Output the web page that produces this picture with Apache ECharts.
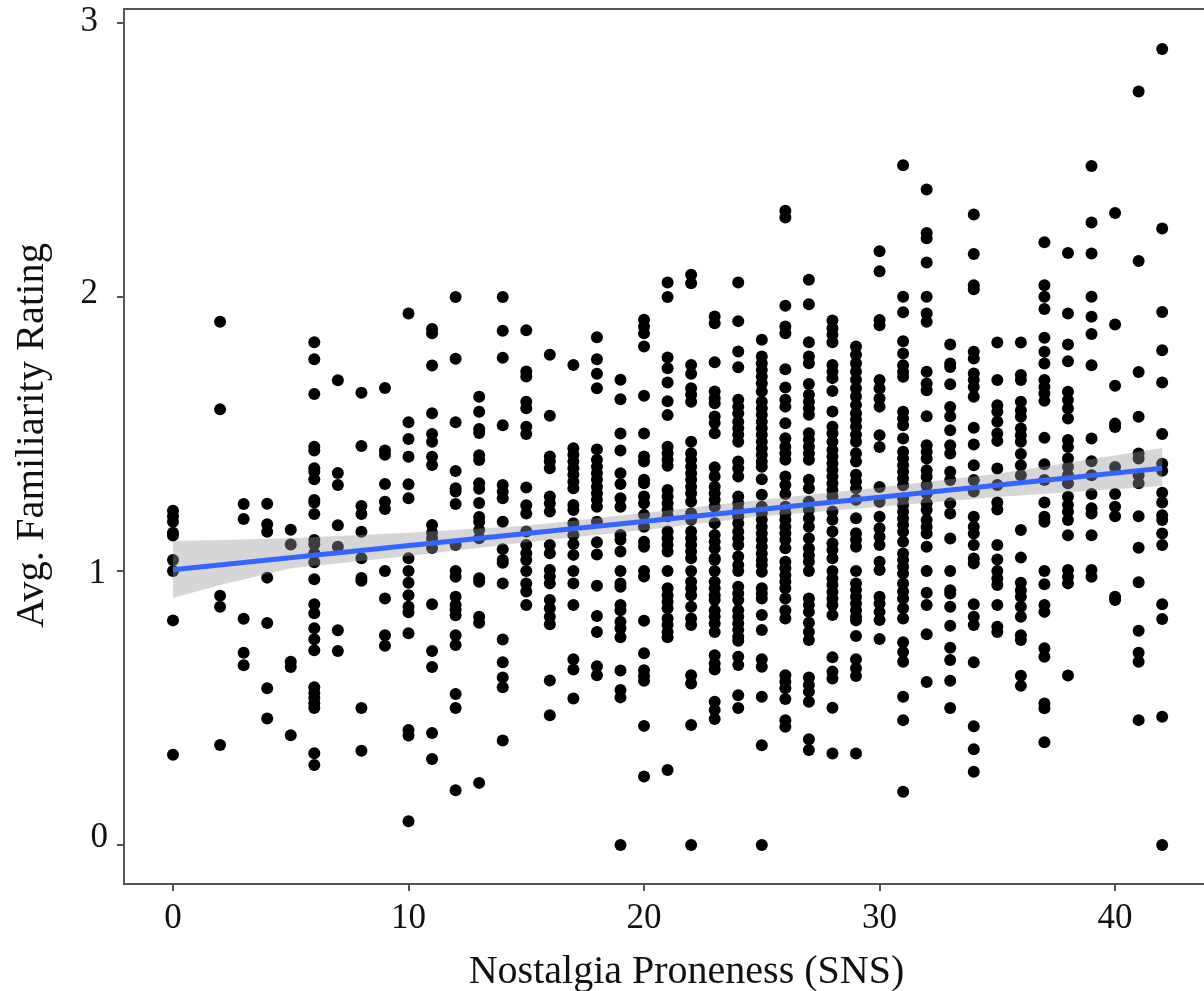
<!DOCTYPE html>
<html>
<head>
<meta charset="utf-8">
<script src="https://cdn.jsdelivr.net/npm/echarts@6/dist/echarts.min.js"></script>
<style>html,body{margin:0;padding:0;background:#fff;overflow:hidden}#c{width:1204px;height:991px}</style>
</head>
<body>
<div id="c"></div>
<script>
const xTicks = [0, 10, 20, 30, 40];
const yTicks = [0, 1, 2, 3];
const xTitle = 'Nostalgia Proneness (SNS)';
const yTitle = 'Avg. Familiarity Rating';

const sns0 = [1.22,1.20,1.18,1.14,1.13,1.04,1.00,0.82,0.33];
const sns2 = [1.91,1.59,0.91,0.87,0.365];
const sns3 = [1.245,1.19,0.826,0.702,0.656];
const sns4 = [1.246,1.171,1.143,0.976,0.81,0.572,0.462];
const sns5 = [1.151,1.097,0.669,0.65,0.401];
const sns6 = [1.835,1.773,1.646,1.454,1.44,1.375,1.362,1.335,1.259,1.25,1.208,1.113,1.098,1.065,1.032,0.97,0.879,0.846,0.791,0.751,0.711,0.576,0.555,0.537,0.518,0.50,0.335,0.292];
const sns7 = [1.696,1.358,1.314,1.167,1.089,0.784,0.708];
const sns8 = [1.651,1.456,1.237,1.208,1.143,1.047,0.975,0.965,0.50,0.344];
const sns9 = [1.668,1.44,1.424,1.318,1.253,1.226,1.0,0.90,0.766,0.727];
const sns10 = [1.94,1.543,1.482,1.417,1.317,1.266,1.047,1.0,0.957,0.912,0.87,0.85,0.773,0.42,0.40,0.087];
const sns11 = [1.883,1.868,1.75,1.576,1.50,1.472,1.417,1.387,1.168,1.14,1.12,1.084,0.879,0.708,0.65,0.409,0.314];
const sns12 = [2.0,1.775,1.543,1.365,1.302,1.29,1.245,1.095,1.0,0.979,0.906,0.876,0.858,0.839,0.766,0.73,0.551,0.50,0.20];
const sns13 = [1.636,1.581,1.518,1.504,1.423,1.405,1.32,1.30,1.248,1.197,1.18,1.15,1.12,0.974,0.961,0.833,0.811,0.227];
const sns14 = [2.0,1.877,1.778,1.532,1.314,1.29,1.266,1.18,1.08,1.04,1.03,0.955,0.75,0.667,0.612,0.576,0.382];
const sns15 = [1.879,1.728,1.71,1.618,1.594,1.527,1.50,1.305,1.24,1.21,1.144,1.095,1.065,1.04,1.0,0.955,0.925,0.876];
const sns16 = [1.789,1.567,1.418,1.40,1.375,1.272,1.247,1.217,1.095,1.065,1.004,0.98,0.955,0.894,0.864,0.833,0.806,0.601,0.474];
const sns17 = [1.752,1.448,1.424,1.40,1.375,1.351,1.326,1.302,1.241,1.223,1.174,1.132,1.099,1.059,1.0,0.955,0.876,0.678,0.641,0.535];
const sns18 = [1.853,1.773,1.72,1.667,1.444,1.406,1.381,1.357,1.333,1.308,1.284,1.26,1.235,1.18,1.105,1.06,0.946,0.836,0.778,0.653,0.62];
const sns19 = [1.698,1.627,1.502,1.44,1.357,1.318,1.266,1.235,1.132,1.114,1.071,1.0,0.955,0.943,0.876,0.857,0.815,0.791,0.758,0.637,0.566,0.539,0.0];
const sns20 = [1.917,1.892,1.868,1.819,1.64,1.502,1.418,1.40,1.333,1.32,1.272,1.247,1.205,1.162,1.107,1.089,1.0,0.98,0.819,0.70,0.638,0.617,0.60,0.435,0.25];
const sns21 = [2.053,2.0,1.779,1.74,1.688,1.62,1.569,1.454,1.43,1.406,1.384,1.296,1.272,1.247,1.223,1.2,1.144,1.12,1.095,1.071,1.0,0.937,0.912,0.888,0.864,0.827,0.803,0.778,0.758,0.274];
const sns22 = [2.081,2.05,1.752,1.72,1.667,1.643,1.618,1.472,1.43,1.406,1.381,1.357,1.333,1.308,1.284,1.254,1.211,1.187,1.144,1.12,1.095,1.071,1.047,1.0,0.961,0.937,0.912,0.87,0.827,0.803,0.62,0.59,0.438,0.0];
const sns23 = [1.929,1.904,1.762,1.655,1.631,1.612,1.564,1.54,1.503,1.379,1.345,1.308,1.284,1.26,1.235,1.174,1.132,1.107,1.083,1.047,1.04,1.0,0.961,0.937,0.912,0.894,0.857,0.833,0.809,0.778,0.693,0.663,0.641,0.523,0.493,0.46];
const sns24 = [2.053,1.912,1.801,1.744,1.625,1.6,1.576,1.545,1.521,1.497,1.472,1.4,1.375,1.345,1.272,1.247,1.223,1.2,1.174,1.144,1.12,1.095,1.053,1.022,1.0,0.943,0.918,0.894,0.857,0.833,0.809,0.785,0.76,0.746,0.687,0.657,0.547,0.5];
const sns25 = [1.844,1.783,1.758,1.734,1.71,1.685,1.655,1.618,1.594,1.57,1.545,1.521,1.497,1.472,1.448,1.424,1.4,1.381,1.335,1.278,1.235,1.211,1.187,1.162,1.138,1.114,1.089,1.064,1.04,1.022,0.997,0.937,0.918,0.90,0.84,0.785,0.678,0.651,0.541,0.364,0.0];
const sns26 = [2.315,2.29,1.968,1.892,1.868,1.736,1.67,1.625,1.6,1.539,1.485,1.454,1.43,1.406,1.345,1.314,1.281,1.235,1.211,1.187,1.162,1.138,1.114,1.083,1.034,1.01,0.985,0.961,0.937,0.90,0.857,0.827,0.62,0.596,0.572,0.533,0.456,0.432];
const sns27 = [2.063,1.974,1.835,1.783,1.758,1.683,1.643,1.618,1.594,1.57,1.503,1.479,1.454,1.43,1.406,1.333,1.302,1.253,1.223,1.193,1.162,1.12,1.083,1.058,1.034,1.0,0.90,0.876,0.851,0.811,0.778,0.748,0.612,0.584,0.56,0.523,0.386,0.347];
const sns28 = [1.914,1.886,1.862,1.835,1.752,1.728,1.704,1.657,1.582,1.527,1.503,1.472,1.442,1.418,1.393,1.369,1.345,1.32,1.296,1.272,1.217,1.187,1.144,1.101,1.077,1.047,1.0,0.973,0.949,0.924,0.90,0.876,0.84,0.685,0.633,0.608,0.501,0.334];
const sns29 = [1.819,1.789,1.758,1.728,1.698,1.667,1.637,1.606,1.576,1.552,1.527,1.497,1.472,1.43,1.4,1.351,1.326,1.302,1.26,1.193,1.138,1.114,1.089,1.0,0.955,0.931,0.906,0.882,0.857,0.833,0.82,0.763,0.678,0.645,0.617,0.334];
const sns30 = [2.167,2.094,1.916,1.897,1.697,1.666,1.63,1.6,1.496,1.453,1.307,1.253,1.198,1.156,1.125,1.095,1.034,1.004,0.906,0.882,0.851,0.821,0.752];
const sns31 = [2.481,2.001,1.944,1.839,1.794,1.751,1.727,1.709,1.581,1.557,1.532,1.484,1.435,1.411,1.386,1.362,1.338,1.313,1.265,1.241,1.216,1.192,1.168,1.143,1.107,1.064,1.04,1.016,0.991,0.955,0.925,0.90,0.864,0.827,0.74,0.705,0.669,0.541,0.456,0.195];
const sns32 = [2.392,2.234,2.214,2.126,2.001,1.94,1.91,1.727,1.684,1.66,1.565,1.459,1.435,1.411,1.368,1.344,1.313,1.283,1.247,1.223,1.186,1.162,1.137,1.089,1.0,0.921,0.876,0.769,0.595];
const sns33 = [1.827,1.757,1.745,1.682,1.599,1.565,1.514,1.459,1.429,1.362,1.332,1.247,1.21,1.119,1.0,0.93,0.918,0.87,0.80,0.72,0.675,0.60,0.50];
const sns34 = [2.301,2.157,2.043,2.028,1.80,1.776,1.721,1.697,1.672,1.636,1.523,1.462,1.386,1.332,1.29,1.198,1.162,1.137,1.095,1.046,1.028,0.879,0.833,0.803,0.667,0.434,0.35,0.268];
const sns35 = [1.834,1.697,1.605,1.581,1.545,1.502,1.475,1.374,1.314,1.25,1.225,1.095,1.042,1.0,0.973,0.949,0.876,0.797,0.778];
const sns36 = [1.834,1.715,1.697,1.618,1.587,1.563,1.52,1.496,1.472,1.427,1.386,1.35,1.15,1.049,0.957,0.93,0.906,0.87,0.833,0.766,0.748,0.618,0.581];
const sns37 = [2.20,2.043,2.001,1.956,1.851,1.80,1.757,1.697,1.672,1.648,1.621,1.486,1.39,1.332,1.25,1.198,1.18,1.0,0.952,0.876,0.851,0.718,0.687,0.517,0.499,0.375];
const sns38 = [2.161,1.94,1.827,1.766,1.654,1.624,1.593,1.557,1.478,1.453,1.411,1.38,1.35,1.32,1.271,1.241,1.216,1.186,1.131,1.004,0.979,0.955,0.619];
const sns39 = [2.478,2.272,2.159,2.001,1.928,1.865,1.751,1.484,1.401,1.35,1.281,1.229,1.21,1.131,1.004,0.979];
const sns40 = [2.307,1.90,1.676,1.538,1.526,1.38,1.281,1.235,1.20,0.906,0.894];
const sns41 = [2.75,2.131,1.726,1.563,1.429,1.411,1.35,1.32,1.20,1.085,0.959,0.782,0.702,0.669,0.456];
const sns42 = [2.905,2.25,1.945,1.806,1.688,1.50,1.392,1.366,1.286,1.25,1.204,1.186,1.137,1.095,0.879,0.825,0.468,0.0];

const snsColumns = [
  [0,sns0],[2,sns2],[3,sns3],[4,sns4],[5,sns5],[6,sns6],[7,sns7],[8,sns8],[9,sns9],[10,sns10],
  [11,sns11],[12,sns12],[13,sns13],[14,sns14],[15,sns15],[16,sns16],[17,sns17],[18,sns18],[19,sns19],[20,sns20],
  [21,sns21],[22,sns22],[23,sns23],[24,sns24],[25,sns25],[26,sns26],[27,sns27],[28,sns28],[29,sns29],[30,sns30],
  [31,sns31],[32,sns32],[33,sns33],[34,sns34],[35,sns35],[36,sns36],[37,sns37],[38,sns38],[39,sns39],[40,sns40],
  [41,sns41],[42,sns42]
];

const fitX = [0, 42];
const fitY = [1.005, 1.375];
const bandX = [0, 2, 5, 10, 15, 20, 25, 30, 35, 42];
const bandUpper = [1.11, 1.113, 1.12, 1.14, 1.165, 1.212, 1.26, 1.305, 1.355, 1.449];
const bandLower = [0.902, 0.949, 1.01, 1.055, 1.105, 1.15, 1.2, 1.235, 1.27, 1.31];

const points = [];
snsColumns.forEach(([x, ys]) => ys.forEach(y => points.push([x, y])));
const bandRows = bandX.map((x, i) => [x, bandLower[i], bandUpper[i]]);

const serif = '"Liberation Serif", serif';
const axisGrey = '#555555';
const labelStyle = {fontFamily: serif, fontSize: 35, color: '#111'};
const chart = echarts.init(document.getElementById('c'), null, {renderer: 'canvas'});
chart.setOption({
  animation: false,
  backgroundColor: '#ffffff',
  grid: {left: 124, top: 9, width: 1090, height: 875, outerBoundsMode: 'none', containLabel: false, show: true, borderColor: axisGrey, borderWidth: 2, backgroundColor: 'transparent'},
  xAxis: {
    type: 'value', min: -2.08, max: 44.2,
    name: xTitle, nameLocation: 'middle', nameGap: 68,
    nameTextStyle: {fontFamily: serif, fontSize: 40, color: '#111', padding: [0, 0, 0, 35]},
    axisLine: {show: true, onZero: false, lineStyle: {color: axisGrey, width: 2}},
    axisTick: {show: true, length: 7, lineStyle: {color: axisGrey, width: 2}, customValues: xTicks},
    axisLabel: Object.assign({margin: 17, customValues: xTicks}, labelStyle),
    splitLine: {show: false}
  },
  yAxis: {
    type: 'value', min: -0.142, max: 3.051,
    name: yTitle, nameLocation: 'middle', nameGap: 71, nameRotate: 90,
    nameTextStyle: {fontFamily: serif, fontSize: 40.5, color: '#111', padding: [0, 0, 0, 22]},
    axisLine: {show: true, onZero: false, lineStyle: {color: axisGrey, width: 2}},
    axisTick: {show: true, length: 7, lineStyle: {color: axisGrey, width: 2}, customValues: yTicks},
    axisLabel: Object.assign({margin: 16, customValues: yTicks,
      formatter: v => '{t' + v + '|' + v + '}',
      rich: {
        t0: Object.assign({padding: [0, 0, 14, 0]}, labelStyle),
        t1: Object.assign({padding: [6, 2, 0, 0]}, labelStyle),
        t2: Object.assign({padding: [0, 10, 7, 0]}, labelStyle),
        t3: Object.assign({padding: [0, 10, 3, 0]}, labelStyle)
      }}, labelStyle),
    splitLine: {show: false}
  },
  series: [
    {type: 'scatter', data: points, symbol: 'circle', symbolSize: 12, itemStyle: {color: '#000', opacity: 1}, z: 2, silent: true},
    {type: 'custom', data: [0], silent: true, z: 3, clip: true,
      renderItem: (params, api) => {
        const top = bandRows.map(r => api.coord([r[0], r[2]]));
        const bottom = bandRows.map(r => api.coord([r[0], r[1]])).reverse();
        return {type: 'polygon', shape: {points: top.concat(bottom)}, style: {fill: '#999999', opacity: 0.4}};
      }},
    {type: 'line', data: fitX.map((x, i) => [x, fitY[i]]), symbol: 'none', lineStyle: {color: '#3366FF', width: 5}, z: 4, silent: true}
  ]
});
</script>
</body>
</html>
